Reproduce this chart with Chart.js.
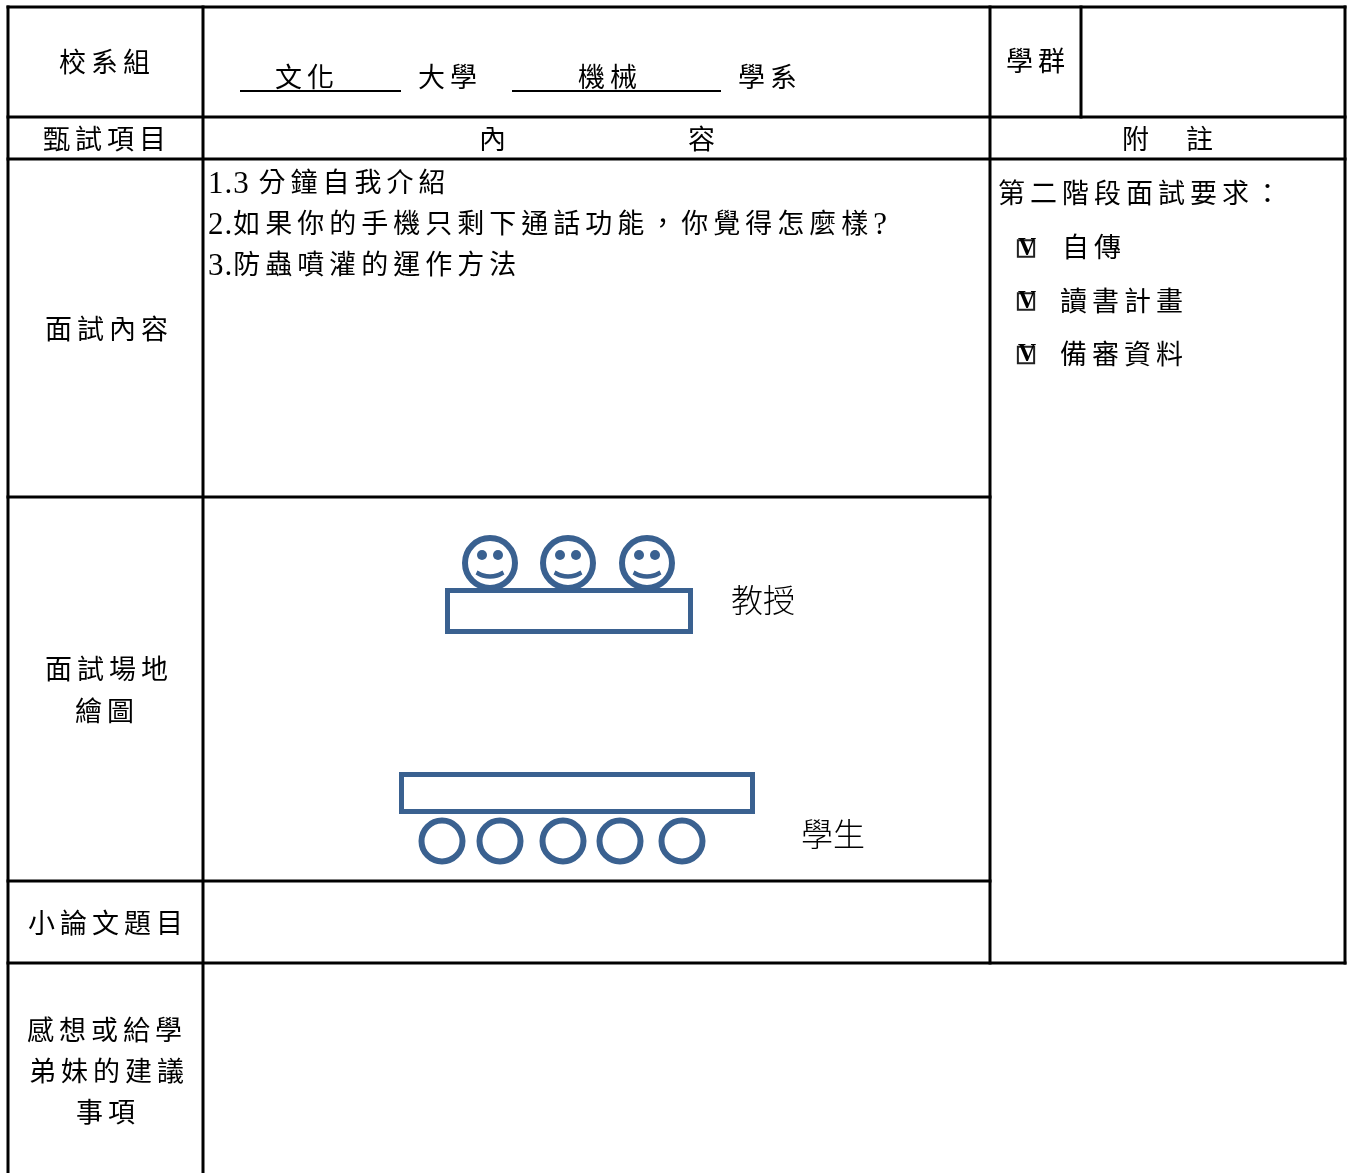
<!DOCTYPE html>
<html lang="zh-Hant">
<head>
    <meta charset="UTF-8">
    <title>面試心得表</title>
    <script src="https://cdn.jsdelivr.net/npm/chart.js"></script>
    <style>
        html, body { margin: 0; padding: 0; background: #fff; }
        #form { display: block; }
    </style>
</head>
<body>
    <canvas id="form" width="1348" height="1173"></canvas>
    <script>
        // table rules: [from, to, at]
        const hRules = [
            [8, 1345, 7], [8, 1345, 117], [8, 1345, 159],
            [8, 990, 497], [8, 990, 881], [8, 1345, 963]
        ];
        const vRules = [
            [7, 1173, 8], [7, 1173, 203], [7, 963, 990], [7, 117, 1081], [7, 963, 1345]
        ];
        const underlines = [[240, 401, 91], [512, 721, 91]];

        // seating sketch
        const tables = [[447.5, 690.5, 590.5, 631.5], [401.5, 752.5, 774.5, 811.5]];
        const professorX = [490, 568, 647];
        const professorY = 563;
        const eyeOffsets = [-8, 8];
        const eyeY = 555;
        const smile = [[-13.5, 9.5], [-7, 12.5], [0, 13.5], [7, 12.5], [13.5, 9.5]];
        const studentX = [442, 500, 563, 620, 682];
        const studentY = 841;

        const checkY = [248.5, 301.5, 355];
        const checkX = 1026;

        // text, x, y
        const labels = [
            ['校系組', 59, 65], ['文化', 275, 80], ['大學', 418, 80], ['機械', 578, 80], ['學系', 738, 80],
            ['學群', 1006, 64], ['甄試項目', 43, 142], ['內', 479, 142], ['容', 688, 142],
            ['附', 1122, 142], ['註', 1186, 142],
            ['1.3 分鐘自我介紹', 208, 185],
            ['2.如果你的手機只剩下通話功能，你覺得怎麼樣?', 208, 226],
            ['3.防蟲噴灌的運作方法', 208, 267],
            ['第二階段面試要求：', 998, 196], ['自傳', 1062, 250], ['讀書計畫', 1060, 304], ['備審資料', 1060, 357],
            ['面試內容', 45, 332], ['面試場地', 45, 672], ['繪圖', 75, 714], ['小論文題目', 28, 926],
            ['感想或給學', 27, 1033], ['弟妹的建議', 29, 1074], ['事項', 76, 1115]
        ];
        const sketchLabels = [['教授', 731, 600], ['學生', 801, 834]];

        const ink = '#000';
        const blue = '#3a6190';
        const cjkFont = '27px "Liberation Serif", "Noto Sans CJK TC"';
        const latinFont = '31px "Liberation Serif"';

        function line(points, color, width, extra) {
            return Object.assign({
                data: points, showLine: true, pointRadius: 0, borderColor: color,
                borderWidth: width, borderCapStyle: 'square', borderJoinStyle: 'miter', clip: false
            }, extra || {});
        }
        function dots(points, radius, border, fill, stroke, style) {
            return {
                data: points, showLine: false, pointRadius: radius, borderWidth: border, pointBorderWidth: border,
                pointBackgroundColor: fill, pointBorderColor: stroke, pointStyle: style || 'circle', clip: false
            };
        }

        const datasets = [];
        hRules.forEach(r => datasets.push(line([{x: r[0], y: r[2]}, {x: r[1], y: r[2]}], ink, 3)));
        vRules.forEach(r => datasets.push(line([{x: r[2], y: r[0]}, {x: r[2], y: r[1]}], ink, 3)));
        underlines.forEach(r => datasets.push(line([{x: r[0], y: r[2]}, {x: r[1], y: r[2]}], ink, 2, {borderCapStyle: 'butt'})));

        tables.forEach(t => datasets.push(line([
            {x: t[0], y: t[2]}, {x: t[1], y: t[2]}, {x: t[1], y: t[3]}, {x: t[0], y: t[3]}, {x: t[0], y: t[2]}
        ], blue, 5)));

        datasets.push(dots(professorX.map(x => ({x: x, y: professorY})), 25, 6, 'transparent', blue));
        professorX.forEach(cx => {
            datasets.push(dots(eyeOffsets.map(o => ({x: cx + o, y: eyeY})), 5, 0, blue, blue));
            datasets.push(line(smile.map(p => ({x: cx + p[0], y: professorY + p[1]})), blue, 4.5, {tension: 0.4, borderCapStyle: 'butt'}));
        });
        datasets.push(dots(studentX.map(x => ({x: x, y: studentY})), 20.5, 6, 'transparent', blue));
        datasets.push(dots(checkY.map(y => ({x: checkX, y: y})), 11.5, 2, 'transparent', '#222', 'rect'));

        // latin runs are a bit larger and tighter than the spread out CJK runs
        function spacedText(ctx, text, x, y) {
            text.match(/[\x20-\x7e]+|[^\x20-\x7e]+/g).forEach(run => {
                const latin = /^[\x20-\x7e]/.test(run);
                ctx.font = latin ? latinFont : cjkFont;
                ctx.letterSpacing = latin ? '1px' : '5px';
                ctx.fillText(run, x, y);
                x += ctx.measureText(run).width;
            });
        }

        // draws the form text at scale positions
        const textPlugin = {
            id: 'formText',
            afterDatasetsDraw(chart) {
                const ctx = chart.ctx;
                const x = chart.scales.x, y = chart.scales.y;
                ctx.save();
                ctx.fillStyle = '#000';
                ctx.textAlign = 'left';
                ctx.textBaseline = 'middle';
                labels.forEach(l => spacedText(ctx, l[0], x.getPixelForValue(l[1]), y.getPixelForValue(l[2])));
                ctx.font = '300 32px "Noto Sans CJK TC"';
                ctx.letterSpacing = '0px';
                sketchLabels.forEach(l => ctx.fillText(l[0], x.getPixelForValue(l[1]), y.getPixelForValue(l[2])));
                ctx.textAlign = 'center';
                ctx.font = 'bold 25px "Liberation Serif"';
                checkY.forEach(cy => ctx.fillText('V', x.getPixelForValue(checkX) + 1, y.getPixelForValue(cy)));
                ctx.restore();
            }
        };

        new Chart(document.getElementById('form'), {
            type: 'scatter',
            data: { datasets: datasets },
            plugins: [textPlugin],
            options: {
                responsive: false,
                animation: false,
                layout: { padding: 0, autoPadding: false },
                plugins: { legend: { display: false }, tooltip: { enabled: false } },
                scales: {
                    x: { type: 'linear', min: 0, max: 1348, display: false },
                    y: { type: 'linear', min: 0, max: 1173, reverse: true, display: false }
                }
            }
        });
    </script>
</body>
</html>
